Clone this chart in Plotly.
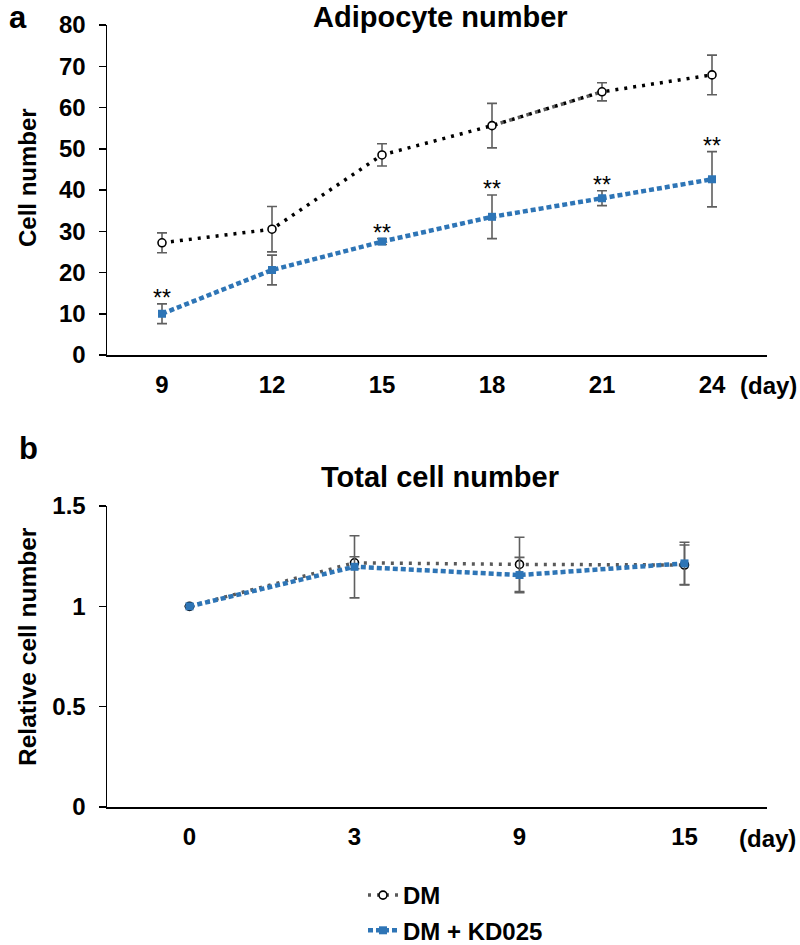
import plotly.graph_objects as go

# ---------------- data ----------------
DAYS_A = ["9", "12", "15", "18", "21", "24"]
DM_A = [27.2, 30.5, 48.5, 55.6, 63.8, 67.9]
DM_A_ERR = [2.4, 5.5, 2.7, 5.4, 2.2, 4.8]
KD_A = [10.0, 20.6, 27.5, 33.5, 38.0, 42.6]
KD_A_ERR = [2.4, 3.6, 0.7, 5.3, 1.8, 6.7]
SIG_A = ["9", "15", "18", "21", "24"]

DAYS_B = ["0", "3", "9", "15"]
DM_B = [1.0, 1.217, 1.209, 1.206]
DM_B_ERR = [0.0, 0.03, 0.135, 0.10]
KD_B = [1.0, 1.197, 1.156, 1.214]
KD_B_ERR = [0.0, 0.155, 0.088, 0.105]

YTICKS_A = [0, 10, 20, 30, 40, 50, 60, 70, 80]
YTICKS_B = [0, 0.5, 1, 1.5]
YTICK_TEXT_B = ["0", "0.5", "1", "1.5"]

# ---------------- style ----------------
W, H = 800, 945
FONT = "Liberation Sans, Arial, sans-serif"
BLUE = "#2E75B6"
GREY = "#595959"
ERRC = "#5f5f5f"
DM_DASH = "3px,6px"
KD_DASH = "5px,3px"


def px_x(p):
    return p / W


def px_y(p):
    return 1 - p / H


def err(vals, color=ERRC):
    return dict(type="data", array=vals, visible=True, color=color,
                thickness=1.6, width=5)


fig = go.Figure()

# ----- panel a -----
fig.add_trace(go.Scatter(x=DAYS_A, y=DM_A, mode="lines", error_y=err(DM_A_ERR),
                         line=dict(color="black", width=3.5, dash=DM_DASH),
                         xaxis="x", yaxis="y", showlegend=False, hoverinfo="skip"))
fig.add_trace(go.Scatter(x=DAYS_A[3:5], y=DM_A[3:5], mode="lines",
                         line=dict(color=GREY, width=3.5, dash=DM_DASH),
                         xaxis="x", yaxis="y", showlegend=False, hoverinfo="skip"))
fig.add_trace(go.Scatter(x=DAYS_A, y=DM_A, mode="markers",
                         marker=dict(symbol="circle", size=8, color="white",
                                     line=dict(color="black", width=1.6)),
                         xaxis="x", yaxis="y", showlegend=False))
fig.add_trace(go.Scatter(x=DAYS_A, y=KD_A, mode="lines+markers", error_y=err(KD_A_ERR),
                         line=dict(color=BLUE, width=4.5, dash=KD_DASH),
                         marker=dict(symbol="square", size=8, color=BLUE),
                         xaxis="x", yaxis="y", showlegend=False))

# ----- panel b -----
fig.add_trace(go.Scatter(x=DAYS_B, y=DM_B, mode="lines+markers", error_y=err(DM_B_ERR),
                         name="DM", legendgroup="dm",
                         line=dict(color=GREY, width=3.5, dash=DM_DASH),
                         marker=dict(symbol="circle", size=8, color="white",
                                     line=dict(color="black", width=1.6)),
                         xaxis="x2", yaxis="y2"))
fig.add_trace(go.Scatter(x=DAYS_B, y=KD_B, mode="lines+markers", error_y=err(KD_B_ERR),
                         name="DM + KD025", legendgroup="kd",
                         line=dict(color=BLUE, width=4.5, dash=KD_DASH),
                         marker=dict(symbol="square", size=8, color=BLUE),
                         xaxis="x2", yaxis="y2"))

tickfont = dict(family=FONT, size=24, color="black", weight="bold")
xdom = [px_x(107), px_x(767)]

axis_common = dict(showline=True, linecolor="black", linewidth=1.5,
                   showgrid=False, zeroline=False, tickfont=tickfont)

fig.update_layout(
    width=W, height=H,
    margin=dict(l=0, r=0, t=0, b=0, autoexpand=False),
    paper_bgcolor="white", plot_bgcolor="white",
    font=dict(family=FONT, color="black"),
    xaxis=dict(domain=xdom, anchor="y", type="category", range=[-0.5, 5.5],
               ticks="", ticklabelstandoff=8, **axis_common),
    yaxis=dict(domain=[px_y(355), px_y(25)], anchor="x", range=[0, 80],
               tickvals=YTICKS_A, ticks="outside", ticklen=7, tickwidth=1.5,
               tickcolor="black", ticklabelstandoff=8, **axis_common),
    xaxis2=dict(domain=xdom, anchor="y2", type="category", range=[-0.5, 3.5],
                ticks="", ticklabelstandoff=8, **axis_common),
    yaxis2=dict(domain=[px_y(807), px_y(506)], anchor="x2", range=[0, 1.5],
                tickvals=YTICKS_B, ticktext=YTICK_TEXT_B, ticks="outside", ticklen=7,
                tickwidth=1.5, tickcolor="black", ticklabelstandoff=8, **axis_common),
    legend=dict(x=px_x(363), y=px_y(873), xanchor="left", yanchor="top",
                font=dict(family=FONT, size=24, color="black", weight="bold"),
                traceorder="grouped", tracegroupgap=1, bgcolor="rgba(0,0,0,0)"),
)

annots = []


def txt(text, x, y, size, weight="bold", angle=0, xanchor="center"):
    annots.append(dict(text=text, x=x, y=y, xref="paper", yref="paper",
                       xanchor=xanchor, yanchor="middle", showarrow=False,
                       textangle=angle,
                       font=dict(family=FONT, size=size, color="black", weight=weight)))


txt("a", px_x(18), px_y(17), 31)
txt("b", px_x(28), px_y(448), 31)
txt("Adipocyte number", px_x(440), px_y(17), 29)
txt("Total cell number", px_x(440), px_y(477), 29)
txt("Cell number", px_x(27), px_y(178), 24, angle=-90)
txt("Relative cell number", px_x(27), px_y(647), 24.5, angle=-90)
txt("(day)", px_x(768), px_y(385), 24)
txt("(day)", px_x(767), px_y(838), 24)

for d in SIG_A:
    i = DAYS_A.index(d)
    annots.append(dict(text="**", x=i, y=KD_A[i] + KD_A_ERR[i], xref="x", yref="y",
                       yanchor="middle", yshift=6, showarrow=False,
                       font=dict(family=FONT, size=23, color="black")))

fig.update_layout(annotations=annots)

fig.write_html("out.html",
               config={"displayModeBar": False, "staticPlot": True},
               post_script="document.body.style.margin='0px';document.body.style.overflow='hidden';")
